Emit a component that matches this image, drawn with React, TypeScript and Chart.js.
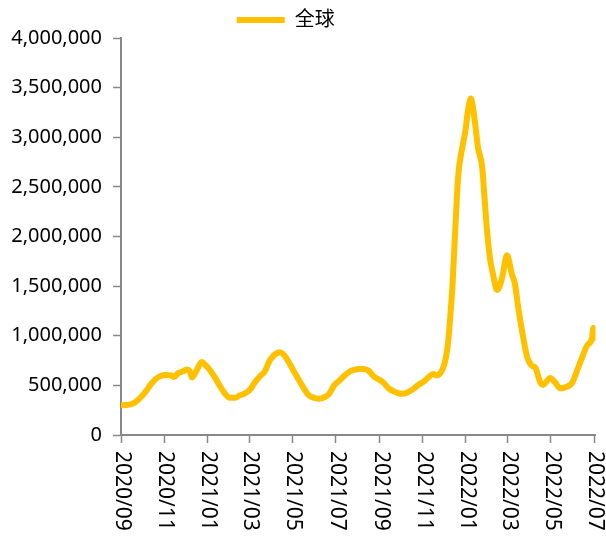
import { useEffect, useRef } from "react";
import { Chart, registerables } from "chart.js";

Chart.register(...registerables);

const seriesName = "全球";

const dates = [
  "2020-09-01", "2020-09-08", "2020-09-15", "2020-09-22", "2020-09-29",
  "2020-10-06", "2020-10-13", "2020-10-20", "2020-10-27", "2020-11-03",
  "2020-11-10", "2020-11-15", "2020-11-20", "2020-11-27", "2020-12-03",
  "2020-12-07", "2020-12-10", "2020-12-16", "2020-12-24", "2020-12-30",
  "2021-01-05", "2021-01-12", "2021-01-19", "2021-01-26", "2021-02-02",
  "2021-02-09", "2021-02-16", "2021-02-23", "2021-03-02", "2021-03-09",
  "2021-03-16", "2021-03-23", "2021-03-30", "2021-04-06", "2021-04-13",
  "2021-04-20", "2021-04-27", "2021-05-04", "2021-05-11", "2021-05-18",
  "2021-05-25", "2021-06-01", "2021-06-08", "2021-06-15", "2021-06-22",
  "2021-06-29", "2021-07-06", "2021-07-13", "2021-07-20", "2021-07-27",
  "2021-08-03", "2021-08-10", "2021-08-17", "2021-08-24", "2021-08-31",
  "2021-09-07", "2021-09-14", "2021-09-21", "2021-09-28", "2021-10-05",
  "2021-10-12", "2021-10-19", "2021-10-26", "2021-11-02", "2021-11-09",
  "2021-11-16", "2021-11-21", "2021-11-27", "2021-12-01", "2021-12-04",
  "2021-12-07", "2021-12-10", "2021-12-13", "2021-12-17", "2021-12-21",
  "2021-12-27", "2021-12-31", "2022-01-04", "2022-01-08", "2022-01-11",
  "2022-01-14", "2022-01-18", "2022-01-24", "2022-01-27", "2022-01-31",
  "2022-02-04", "2022-02-08", "2022-02-14", "2022-02-21", "2022-02-28",
  "2022-03-07", "2022-03-11", "2022-03-16", "2022-03-21", "2022-03-28",
  "2022-04-04", "2022-04-09", "2022-04-16", "2022-04-20", "2022-04-30",
  "2022-05-07", "2022-05-14", "2022-05-21", "2022-05-31", "2022-06-07",
  "2022-06-14", "2022-06-21", "2022-06-28", "2022-06-30", "2022-07-02",
];

const cases = [
  300000, 302000, 310000, 335000, 380000,
  440000, 510000, 565000, 595000, 605000,
  600000, 585000, 620000, 640000, 660000,
  645000, 580000, 640000, 735000, 700000,
  650000, 575000, 490000, 415000, 375000,
  375000, 400000, 420000, 455000, 530000,
  590000, 640000, 750000, 810000, 835000,
  800000, 720000, 630000, 545000, 460000,
  395000, 375000, 365000, 380000, 415000,
  500000, 545000, 595000, 635000, 655000,
  665000, 665000, 645000, 590000, 560000,
  525000, 470000, 440000, 420000, 415000,
  435000, 465000, 505000, 535000, 580000,
  615000, 600000, 635000, 700000, 790000,
  940000, 1200000, 1500000, 2070000, 2600000,
  2900000, 3050000, 3270000, 3390000, 3300000,
  3140000, 2900000, 2700000, 2420000, 2050000,
  1780000, 1630000, 1460000, 1580000, 1810000,
  1620000, 1530000, 1280000, 1060000, 800000,
  700000, 680000, 530000, 505000, 575000,
  530000, 470000, 480000, 525000, 650000,
  780000, 900000, 975000, 1080000, 980000,
];

const tickLabels = [
  "2020/09", "2020/11", "2021/01", "2021/03", "2021/05", "2021/07",
  "2021/09", "2021/11", "2022/01", "2022/03", "2022/05", "2022/07",
];

const xStartDate = "2020-09-01";
const xEndDate = "2022-07-03";
const yMin = 0;
const yMax = 4000000;
const yStep = 500000;

const FONT = "'Noto Sans', 'Noto Sans CJK SC', sans-serif";
const LINE_COLOR = "#FFC000";
const AXIS_COLOR = "#888888";

const START = Date.parse(xStartDate + "T00:00:00Z");
const dayOf = (iso: string) => (Date.parse(iso + "T00:00:00Z") - START) / 86400000;
const tickDay = (lab: string) => {
  const [y, m] = lab.split("/").map(Number);
  return (Date.UTC(y, m - 1, 1) - START) / 86400000;
};

const rotatedXLabels = {
  id: "rotatedXLabels",
  afterDraw(chart: any) {
    const sc = chart.scales.x;
    const ctx = chart.ctx;
    ctx.save();
    ctx.font = `21px ${FONT}`;
    ctx.fillStyle = "#000";
    ctx.textAlign = "left";
    ctx.textBaseline = "middle";
    tickLabels.forEach((lab) => {
      const px = sc.getPixelForValue(tickDay(lab));
      ctx.save();
      ctx.translate(px + 1, sc.top + 16);
      ctx.rotate(Math.PI / 2);
      ctx.fillText(lab, 0, 0);
      ctx.restore();
    });
    ctx.restore();
  },
};

const shiftLegend = {
  id: "shiftLegend",
  afterLayout(chart: any) {
    const lg = chart.legend;
    if (lg) {
      lg.left -= 12;
      lg.right -= 12;
      lg.top += 2;
      lg.bottom += 2;
    }
  },
};

export default function App() {
  const ref = useRef<HTMLCanvasElement | null>(null);

  useEffect(() => {
    if (!ref.current) return;
    Chart.defaults.font.family = FONT;
    Chart.defaults.color = "#000";
    const chart = new Chart(ref.current, {
      type: "line",
      data: {
        datasets: [
          {
            label: seriesName,
            data: dates.map((d, i) => ({ x: dayOf(d), y: cases[i] })),
            borderColor: LINE_COLOR,
            backgroundColor: LINE_COLOR,
            borderWidth: 6,
            pointRadius: 0,
            pointHoverRadius: 0,
            pointStyle: "line",
            cubicInterpolationMode: "monotone",
            borderJoinStyle: "round",
            borderCapStyle: "round",
            fill: false,
          },
        ],
      },
      options: {
        responsive: true,
        maintainAspectRatio: false,
        animation: false,
        layout: { padding: { top: 0, right: 10.5, bottom: 0, left: 0 } },
        plugins: {
          legend: {
            display: true,
            position: "top",
            labels: {
              usePointStyle: true,
              pointStyleWidth: 48,
              padding: 8,
              color: "#000",
              font: { size: 20, family: FONT },
            },
          },
          tooltip: { enabled: false },
        },
        scales: {
          x: {
            type: "linear",
            min: dayOf(xStartDate),
            max: dayOf(xEndDate),
            afterBuildTicks: (scale: any) => {
              scale.ticks = tickLabels.map((l) => ({ value: tickDay(l) }));
            },
            afterFit: (scale: any) => {
              scale.height = 103;
            },
            ticks: { display: false },
            grid: {
              display: true,
              drawOnChartArea: false,
              drawTicks: true,
              tickLength: 8,
              tickColor: AXIS_COLOR,
              tickWidth: 1.5,
              color: AXIS_COLOR,
            },
            border: { display: true, color: AXIS_COLOR, width: 2 },
          },
          y: {
            type: "linear",
            min: yMin,
            max: yMax,
            afterFit: (scale: any) => {
              scale.width = 121;
            },
            ticks: {
              stepSize: yStep,
              padding: 11,
              color: "#000",
              font: { size: 20, family: FONT },
              callback: (v: any) => Number(v).toLocaleString("en-US"),
            },
            grid: {
              display: true,
              drawOnChartArea: false,
              drawTicks: true,
              tickLength: 8,
              tickColor: AXIS_COLOR,
              tickWidth: 1.5,
              color: AXIS_COLOR,
            },
            border: { display: true, color: AXIS_COLOR, width: 2 },
          },
        },
      },
      plugins: [rotatedXLabels, shiftLegend],
    });
    return () => chart.destroy();
  }, []);

  return (
    <div style={{ position: "absolute", left: 0, top: 0, width: 606, height: 538 }}>
      <canvas ref={ref} />
    </div>
  );
}
